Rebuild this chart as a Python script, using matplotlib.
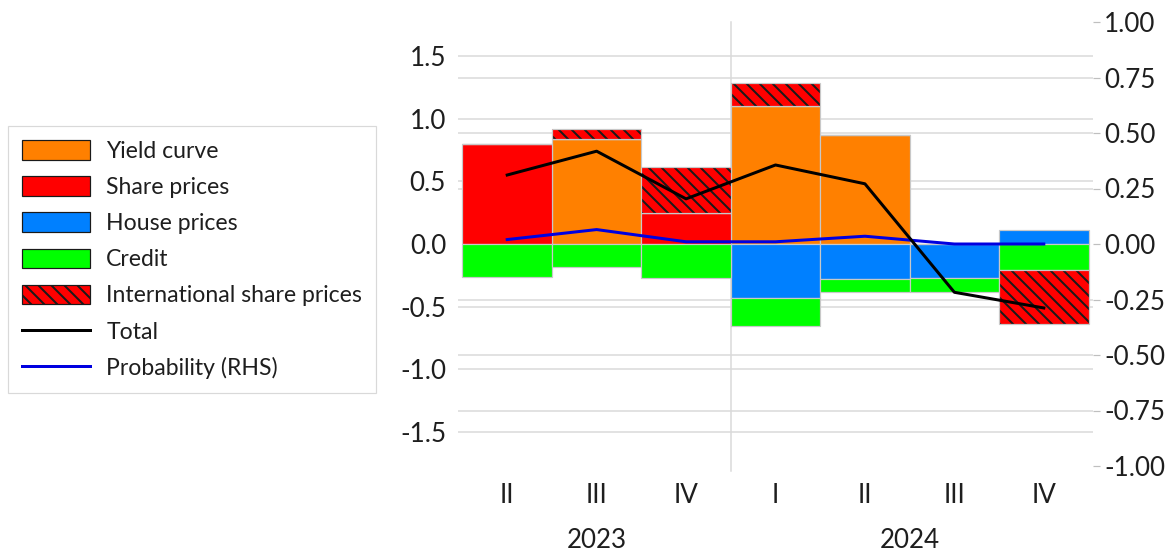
import matplotlib
matplotlib.use("Agg")
import matplotlib.pyplot as plt
import matplotlib.patches as mpatches
import matplotlib.lines as mlines
import matplotlib.transforms as mtransforms
import numpy as np

DPI = 78


def px(v):
    # pixel size -> points at the chosen dpi
    return v * 72 / DPI


quarters = ["II", "III", "IV", "I", "II", "III", "IV"]
years = ["2023", "2024"]
year_centres = [1, 4.5]

yield_curve = [0.0, 0.84, 0.0, 1.10, 0.87, 0.0, 0.0]
share_prices = [0.80, 0.0, 0.25, 0.0, 0.0, 0.0, 0.0]
house_prices = [0.0, 0.0, 0.0, -0.43, -0.28, -0.27, 0.11]
credit = [-0.26, -0.18, -0.27, -0.22, -0.10, -0.11, -0.21]
intl_share_prices = [0.0, 0.08, 0.36, 0.18, 0.0, 0.0, -0.43]
total = [0.55, 0.74, 0.36, 0.63, 0.48, -0.385, -0.51]
probability = [0.02, 0.065, 0.01, 0.01, 0.035, 0.0, 0.0]

plt.rcParams["font.family"] = ["Lato", "DejaVu Sans"]
plt.rcParams["hatch.linewidth"] = px(2.0)

text_col = "#1e1e1e"
grid_col = "#d9d9d9"
edge_col = "#c8c8c8"
W, H = 1174, 553

fig = plt.figure(figsize=(W / DPI, H / DPI), dpi=DPI)
ax = fig.add_axes([458 / W, 1 - 466 / H, (1093 - 458) / W, (466 - 22) / H])
ax2 = ax.twinx()
ax2.patch.set_visible(False)

x = np.arange(len(quarters))
series = [
    ("Yield curve", yield_curve, "#FF8000", None),
    ("Share prices", share_prices, "#FF0000", None),
    ("House prices", house_prices, "#0080FF", None),
    ("Credit", credit, "#00FF00", None),
    ("International share prices", intl_share_prices, "#FF0000", "\\\\"),
]

pos = np.zeros(len(x))
neg = np.zeros(len(x))
for name, vals, col, hatch in series:
    vals = np.array(vals)
    bottom = np.where(vals >= 0, pos, neg)
    if hatch:
        # hatch takes the edge colour, so fill+hatch first, grey outline after
        ax.bar(x, vals, width=1.0, bottom=bottom, color=col, hatch=hatch,
               edgecolor="#1a1a1a", linewidth=0, zorder=2)
        ax.bar(x, vals, width=1.0, bottom=bottom, fill=False,
               edgecolor=edge_col, linewidth=px(1.2), zorder=2)
    else:
        ax.bar(x, vals, width=1.0, bottom=bottom, color=col,
               edgecolor=edge_col, linewidth=px(1.2), zorder=2)
    pos = pos + np.where(vals > 0, vals, 0)
    neg = neg + np.where(vals < 0, vals, 0)

ax.set_xlim(-0.55, 6.55)
ax.set_ylim(-1.77, 1.77)
ax2.set_ylim(-1.0, 1.0)

ax.set_yticks([-1.5, -1.0, -0.5, 0.0, 0.5, 1.0, 1.5])
ax.set_yticklabels([f"{v:.1f}" for v in ax.get_yticks()])
ax2.set_yticks(np.arange(-1.0, 1.01, 0.25))
ax2.set_yticklabels([f"{v:.2f}" for v in ax2.get_yticks()])

# gridlines for both scales (drawn under the bars), none at the outer edges
for v in [-1.5, -1.0, -0.5, 0.5, 1.0, 1.5]:
    ax.axhline(v, color=grid_col, lw=px(1.5), zorder=0)
rhs = mtransforms.blended_transform_factory(ax.transAxes, ax2.transData)
for v in [-0.75, -0.5, -0.25, 0.25, 0.5, 0.75]:
    ax.plot([0, 1], [v, v], transform=rhs, color=grid_col, lw=px(1.5), zorder=0)
ax.axvline(2.5, ymin=-0.012, ymax=1.0, color=grid_col, lw=px(1.5),
           zorder=1, clip_on=False)

ax2.plot(x, probability, color="#0000E0", lw=px(3), zorder=3)
ax2.plot(x, total, color="black", lw=px(3), zorder=4,
         transform=ax.transData)

for a in (ax, ax2):
    for s in a.spines.values():
        s.set_visible(False)

ax.set_xticks(x)
ax.set_xticklabels(quarters)
ax.tick_params(axis="x", length=0, pad=px(17), labelsize=px(26), labelcolor=text_col)
ax.tick_params(axis="y", length=0, pad=px(12), labelsize=px(26), labelcolor=text_col)
ax2.tick_params(axis="y", length=px(7), width=px(1.2), color="#bfbfbf",
                pad=px(4), labelsize=px(26), labelcolor=text_col)

trans = mtransforms.blended_transform_factory(ax.transData, fig.transFigure)
for yr, xc in zip(years, year_centres):
    ax.text(xc, 1 - 540 / H, yr, transform=trans, ha="center", va="center",
            fontsize=px(26), color=text_col)

handles = [mpatches.Patch(facecolor=c, edgecolor="#1a1a1a", hatch=h, lw=px(1.2))
           for _, _, c, h in series]
handles += [mlines.Line2D([], [], color="black", lw=px(3)),
            mlines.Line2D([], [], color="#0000E0", lw=px(3))]
labels = [s[0] for s in series] + ["Total", "Probability (RHS)"]
leg = fig.legend(handles, labels, loc="upper left",
                 bbox_to_anchor=(8 / W, 1 - 126 / H), borderaxespad=0,
                 fontsize=px(23), frameon=True, fancybox=False,
                 handlelength=2.95, handleheight=0.95, handletextpad=0.7,
                 labelspacing=0.62, borderpad=0.62)
leg.get_frame().set_edgecolor("#d0d0d0")
leg.get_frame().set_linewidth(px(1.2))
for t in leg.get_texts():
    t.set_color(text_col)

fig.savefig("out.png", dpi=DPI)
